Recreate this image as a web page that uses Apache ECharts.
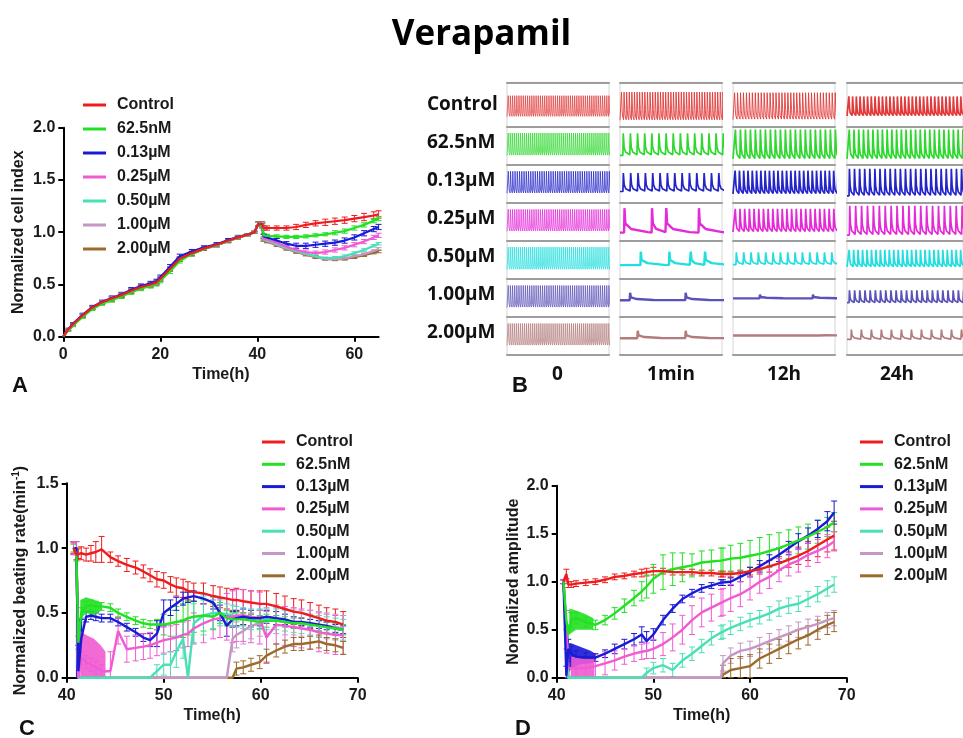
<!DOCTYPE html>
<html>
<head>
<meta charset="utf-8">
<script src="https://cdn.jsdelivr.net/npm/echarts@6/dist/echarts.min.js"></script>
<style>
  html, body { margin: 0; padding: 0; background: #fff; }
  #chart { width: 963px; height: 738px; }
</style>
</head>
<body>
<div id="chart"></div>
<script>
// ---------- shared labels and colours ----------
const seriesNames = ['Control', '62.5nM', '0.13µM', '0.25µM', '0.50µM', '1.00µM', '2.00µM'];
const seriesColors = ['#ee1c1c', '#22e022', '#1a1ad6', '#f05ad2', '#48e0b4', '#c497c4', '#9a6b2c'];

// ---------- A: normalized cell index ----------
const timeA = [0,1,2,4,6,8,10,12,14,16,18,19.2,20,22,24,26.5,29,31.6,34,36,38,39.4,40.2,41,41.3,42,44,46,48,50,52,54,56,58,60,62,64,65];
const cellIndexMean = [
  [0,0.07,0.12,0.205,0.28,0.33,0.365,0.4,0.44,0.475,0.5,0.52,0.555,0.65,0.745,0.8,0.845,0.88,0.92,0.95,0.975,1.0,1.08,1.08, 1.04,1.04,1.04,1.04,1.05,1.07,1.085,1.095,1.105,1.115,1.13,1.145,1.16,1.17],
  [0,0.06,0.105,0.19,0.265,0.315,0.35,0.385,0.425,0.46,0.485,0.505,0.535,0.625,0.725,0.79,0.84,0.875,0.915,0.95,0.975,1.0,1.08,1.07, 0.97,0.965,0.96,0.955,0.955,0.96,0.97,0.98,0.995,1.01,1.04,1.07,1.11,1.13],
  [0,0.07,0.125,0.21,0.285,0.335,0.37,0.405,0.45,0.485,0.51,0.53,0.57,0.67,0.77,0.815,0.855,0.885,0.925,0.955,0.978,1.0,1.08,1.07, 0.96,0.95,0.92,0.89,0.87,0.87,0.88,0.89,0.9,0.92,0.95,0.99,1.03,1.05],
  [0,0.07,0.12,0.2,0.275,0.325,0.36,0.395,0.435,0.47,0.495,0.515,0.55,0.645,0.74,0.795,0.84,0.875,0.915,0.948,0.975,1.0,1.08,1.07, 0.94,0.93,0.9,0.86,0.83,0.81,0.8,0.81,0.83,0.85,0.88,0.91,0.95,0.97],
  [0,0.065,0.115,0.2,0.275,0.325,0.36,0.395,0.435,0.47,0.495,0.515,0.55,0.645,0.74,0.795,0.84,0.875,0.915,0.948,0.975,1.0,1.08,1.07, 0.935,0.92,0.89,0.85,0.82,0.795,0.77,0.75,0.755,0.77,0.8,0.83,0.87,0.89],
  [0,0.065,0.115,0.2,0.275,0.325,0.36,0.395,0.435,0.47,0.495,0.515,0.55,0.645,0.74,0.795,0.84,0.875,0.915,0.948,0.975,1.0,1.08,1.06, 0.93,0.915,0.88,0.845,0.815,0.79,0.765,0.745,0.74,0.75,0.77,0.79,0.82,0.84],
  [0,0.065,0.115,0.2,0.275,0.325,0.36,0.395,0.435,0.47,0.495,0.515,0.55,0.645,0.74,0.795,0.84,0.875,0.915,0.948,0.975,1.0,1.08,1.06, 0.925,0.91,0.875,0.84,0.81,0.785,0.76,0.745,0.74,0.745,0.76,0.78,0.805,0.815]
];
const cellIndexErr = [
  [0,0.01,0.01,0.015,0.015,0.015,0.02,0.02,0.02,0.02,0.02,0.02,0.02,0.02,0.02,0.02,0.015,0.015,0.015,0.015,0.01,0.01,0.02,0.02, 0.02,0.02,0.02,0.02,0.025,0.025,0.025,0.03,0.03,0.03,0.03,0.035,0.035,0.035],
  [0,0.01,0.01,0.015,0.015,0.015,0.02,0.02,0.02,0.02,0.02,0.02,0.02,0.02,0.02,0.02,0.015,0.015,0.015,0.015,0.01,0.01,0.02,0.02, 0.015,0.015,0.015,0.015,0.015,0.015,0.015,0.015,0.02,0.02,0.02,0.02,0.02,0.02],
  [0,0.01,0.01,0.015,0.015,0.015,0.02,0.02,0.02,0.02,0.02,0.02,0.02,0.02,0.02,0.02,0.015,0.015,0.015,0.015,0.01,0.01,0.02,0.02, 0.02,0.02,0.02,0.02,0.025,0.025,0.025,0.025,0.025,0.025,0.025,0.025,0.025,0.025],
  [0,0.01,0.01,0.015,0.015,0.015,0.02,0.02,0.02,0.02,0.02,0.02,0.02,0.02,0.02,0.02,0.015,0.015,0.015,0.015,0.01,0.01,0.02,0.02, 0.015,0.015,0.015,0.02,0.02,0.02,0.02,0.02,0.02,0.02,0.02,0.02,0.02,0.02],
  [0,0.01,0.01,0.015,0.015,0.015,0.02,0.02,0.02,0.02,0.02,0.02,0.02,0.02,0.02,0.02,0.015,0.015,0.015,0.015,0.01,0.01,0.02,0.02, 0.012,0.012,0.012,0.012,0.012,0.012,0.012,0.012,0.012,0.012,0.012,0.012,0.012,0.012],
  [0,0.01,0.01,0.015,0.015,0.015,0.02,0.02,0.02,0.02,0.02,0.02,0.02,0.02,0.02,0.02,0.015,0.015,0.015,0.015,0.01,0.01,0.02,0.02, 0.012,0.012,0.012,0.012,0.012,0.012,0.012,0.012,0.012,0.012,0.012,0.012,0.012,0.012],
  [0,0.01,0.01,0.015,0.015,0.015,0.02,0.02,0.02,0.02,0.02,0.02,0.02,0.02,0.02,0.02,0.015,0.015,0.015,0.015,0.01,0.01,0.02,0.02, 0.012,0.012,0.012,0.012,0.012,0.012,0.012,0.012,0.012,0.012,0.012,0.012,0.012,0.012]
];

// ---------- B: beating traces ----------
const traceCols = ['0', '1min', '12h', '24h'];
// spacing between beats, as a fraction of one panel width (null = irregular rhythm)
const beatPeriod = [
  [0.021, 0.0255, 0.029, 0.041],
  [0.020, 0.070, 0.049, 0.052],
  [0.022, 0.072, 0.042, 0.056],
  [0.021, null, 0.046, 0.065],
  [0.020, null, 0.072, 0.049],
  [0.021, null, null, 0.057],
  [0.020, null, null, 0.110]
];
// beat positions for the irregular traces: [row, column, positions]
const irregularBeats = [
  [3, 1, [0.04, 0.31, 0.45, 0.77]],
  [4, 1, [0.20, 0.48, 0.69, 0.83]],
  [5, 1, [0.095, 0.64]],
  [6, 1, [0.17, 0.64]],
  [5, 2, [0.26, 0.78]],
  [6, 2, [0.84]]
];
// spike amplitude (arbitrary units)
const beatAmp = [
  [0.86, 1.15, 1.10, 0.80],
  [0.92, 0.90, 1.20, 1.20],
  [0.90, 0.75, 0.95, 1.10],
  [0.90, 1.00, 0.95, 1.20],
  [0.92, 0.55, 0.50, 0.70],
  [0.90, 0.30, 0.15, 0.50],
  [0.90, 0.30, 0.08, 0.40]
];
const traceColors = ['#e23a3a', '#2fd82f', '#2424c8', '#e52ad8', '#22dede', '#5a52b8', '#b27c7c'];

// ---------- C: normalized beating rate ----------
const timeC = [40.7,41.0,41.2,41.5,42, 42.5,43,43.6,44.5,45.3, 46.2,47.1,47.9,48.6,49.3, 50,50.7,51.3,52,52.5, 53.1,54.1,55.1,55.8,56.5, 57.1,57.5,58.2,59,59.9, 60.6,61.6,62.5,63.4,64.2, 65.1,66,66.8,67.7,68.5];
const rateMean = [
  [1.0,0.95,0.96,0.96,0.95, 0.96,0.97,0.99,0.93,0.9, 0.87,0.85,0.82,0.79,0.76, 0.75,0.72,0.7,0.69,0.67, 0.66,0.65,0.63,0.62,0.61, 0.6,0.6,0.59,0.58,0.57, 0.57,0.55,0.53,0.51,0.5, 0.48,0.46,0.44,0.43,0.41],
  [1.0,0.95,0.27,0.5,0.55, 0.56,0.55,0.55,0.54,0.5, 0.47,0.44,0.42,0.41,0.41, 0.41,0.42,0.43,0.44,0.46, 0.47,0.48,0.47,0.5,0.46, 0.45,0.45,0.45,0.44,0.43, 0.44,0.44,0.43,0.42,0.42, 0.41,0.4,0.39,0.38,0.37],
  [1.0,1.0,0.05,0.3,0.47, 0.48,0.47,0.46,0.46,0.43, 0.39,0.35,0.31,0.29,0.34, 0.5,0.54,0.57,0.61,0.62, 0.63,0.61,0.58,0.5,0.4, 0.45,0.46,0.47,0.46,0.46, 0.47,0.46,0.45,0.43,0.43, 0.42,0.41,0.4,0.38,0.37],
  [1.0,1.0,0.0,0.15,0.12, 0.1,0.08,0.05,0.05,0.36, 0.22,0.23,0.24,0.25,0.27, 0.29,0.3,0.31,0.33,0.34, 0.38,0.42,0.45,0.46,0.47, 0.47,0.48,0.48,0.47,0.46, 0.31,0.41,0.4,0.39,0.38, 0.37,0.35,0.34,0.33,0.33],
  [1.0,1.0,0,0,0, 0,0,0,0,0, 0,0,0,0,0.05, 0.1,0.1,0.2,0.3,0.0, 0.42,0.48,0.5,0.5,0.49, 0.48,0.47,0.46,0.45,0.45, 0.45,0.45,0.44,0.43,0.42, 0.41,0.4,0.39,0.38,0.37],
  [1.0,1.0,0,0,0, 0,0,0,0,0, 0,0,0,0,0, 0,0,0,0,0, 0,0,0,0,0, 0.3,0.33,0.36,0.4,0.42, 0.44,0.44,0.43,0.43,0.42, 0.42,0.41,0.4,0.39,0.38],
  [1.0,1.0,0,0,0, 0,0,0,0,0, 0,0,0,0,0, 0,0,0,0,0, 0,0,0,0,0, 0,0.07,0.08,0.1,0.12, 0.17,0.21,0.24,0.26,0.26, 0.27,0.28,0.26,0.25,0.23]
];
const rateErr = [
  [0.04,0.04,0.04,0.05,0.05, 0.06,0.08,0.1,0.04,0.04, 0.05,0.05,0.05,0.05,0.06, 0.06,0.06,0.07,0.07,0.07, 0.07,0.08,0.08,0.08,0.08, 0.08,0.09,0.09,0.09,0.1, 0.1,0.1,0.1,0.1,0.1, 0.1,0.1,0.1,0.1,0.1],
  [0.03,0.05,0.05,0.04,0.04, 0.04,0.04,0.03,0.03,0.03, 0.03,0.03,0.03,0.03,0.04, 0.08,0.1,0.12,0.13,0.13, 0.12,0.12,0.1,0.08,0.06, 0.05,0.05,0.05,0.05,0.05, 0.05,0.04,0.04,0.04,0.04, 0.04,0.04,0.04,0.04,0.04],
  [0.05,0.05,0.2,0.15,0.04, 0.03,0.03,0.03,0.03,0.03, 0.03,0.03,0.03,0.05,0.1, 0.1,0.06,0.05,0.05,0.04, 0.04,0.04,0.05,0.06,0.08, 0.06,0.06,0.06,0.06,0.06, 0.05,0.05,0.04,0.04,0.03, 0.03,0.03,0.03,0.03,0.03],
  [0.05,0.05,0,0.05,0.05, 0.05,0.05,0.05,0.15,0.1, 0.1,0.1,0.1,0.1,0.1, 0.1,0.1,0.1,0.1,0.1, 0.12,0.15,0.15,0.15,0.18, 0.2,0.2,0.2,0.2,0.2, 0.2,0.15,0.15,0.15,0.15, 0.15,0.15,0.15,0.15,0.15],
  [0,0,0,0,0, 0,0,0,0,0, 0,0,0,0,0.05, 0.08,0.1,0.12,0.15,0, 0.15,0.15,0.12,0.1,0.08, 0.08,0.08,0.08,0.08,0.08, 0.08,0.08,0.08,0.08,0.08, 0.08,0.08,0.08,0.08,0.08],
  [0,0,0,0,0, 0,0,0,0,0, 0,0,0,0,0, 0,0,0,0,0, 0,0,0,0,0, 0.1,0.1,0.1,0.1,0.1, 0.1,0.1,0.1,0.1,0.1, 0.1,0.1,0.1,0.1,0.1],
  [0,0,0,0,0, 0,0,0,0,0, 0,0,0,0,0, 0,0,0,0,0, 0,0,0,0,0, 0,0.05,0.05,0.05,0.05, 0.05,0.05,0.05,0.05,0.05, 0.05,0.05,0.05,0.05,0.05]
];
// envelopes of the irregular beating just after dosing: [time, low, high]
const rateNoiseBlue = [[40.95,0,0.5],[41.3,0,0.45],[41.6,0.3,0.5]];
const rateNoiseGreen = [[41.4,0.45,0.6],[42.0,0.5,0.62],[42.8,0.48,0.6],[43.6,0.52,0.58]];
const rateNoisePink = [[41.4,0,0.36],[42.0,0,0.33],[42.8,0,0.3],[43.5,0,0.25],[44.0,0,0.2]];

// ---------- D: normalized amplitude ----------
const timeD = [40.7,41.0,41.2,41.5,42, 43,44,45,46,47, 48,48.8,49.3,50,51, 52,53,54,55,56, 57,57.2,58,59,60, 61,62,63,64,65, 66,67,68,68.7];
const ampMean = [
  [1.0,1.08,0.97,0.97,0.98, 0.99,1.0,1.02,1.05,1.06, 1.08,1.09,1.1,1.11,1.11, 1.1,1.1,1.1,1.09,1.09, 1.08,1.08,1.08,1.09,1.11, 1.13,1.16,1.19,1.23,1.27, 1.32,1.38,1.44,1.48],
  [1.0,0.6,0.45,0.6,0.62, 0.58,0.55,0.6,0.67,0.75, 0.83,0.9,0.95,1.03,1.1, 1.13,1.15,1.17,1.2,1.21, 1.22,1.22,1.24,1.25,1.27, 1.29,1.32,1.35,1.39,1.43, 1.47,1.52,1.57,1.62],
  [1.0,0.02,0.3,0.25,0.22, 0.21,0.21,0.25,0.3,0.35, 0.4,0.45,0.38,0.45,0.6, 0.72,0.82,0.88,0.93,0.96, 0.99,0.99,1.0,1.05,1.1, 1.16,1.22,1.28,1.35,1.42, 1.48,1.55,1.63,1.72],
  [1.0,0.5,0.1,0.1,0.1, 0.1,0.12,0.15,0.18,0.22, 0.25,0.27,0.28,0.3,0.35, 0.42,0.5,0.6,0.68,0.73, 0.78,0.79,0.83,0.87,0.93, 1.0,1.05,1.12,1.18,1.22, 1.28,1.32,1.37,1.42],
  [1.0,0.5,0,0,0, 0,0,0,0,0, 0,0,0.05,0.1,0.13, 0.08,0.18,0.25,0.33,0.41, 0.47,0.48,0.52,0.56,0.6, 0.63,0.67,0.72,0.75,0.77, 0.82,0.87,0.93,0.97],
  [1.0,0.5,0,0,0, 0,0,0,0,0, 0,0,0,0,0, 0,0,0,0,0, 0,0.15,0.23,0.28,0.3, 0.34,0.38,0.42,0.46,0.5, 0.53,0.56,0.6,0.62],
  [1.0,0.5,0,0,0, 0,0,0,0,0, 0,0,0,0,0, 0,0,0,0,0, 0,0.03,0.08,0.1,0.12, 0.2,0.25,0.3,0.35,0.4, 0.44,0.5,0.55,0.58]
];
const ampErr = [
  [0.02,0.05,0.03,0.03,0.03, 0.03,0.03,0.03,0.03,0.03, 0.03,0.04,0.04,0.04,0.03, 0.03,0.03,0.03,0.03,0.03, 0.03,0.03,0.03,0.03,0.04, 0.05,0.06,0.07,0.08,0.09, 0.1,0.12,0.13,0.15],
  [0.02,0.1,0.1,0.08,0.06, 0.05,0.05,0.05,0.06,0.07, 0.08,0.1,0.12,0.15,0.18, 0.17,0.15,0.12,0.12,0.12, 0.13,0.13,0.14,0.15,0.16, 0.17,0.17,0.16,0.15,0.14, 0.13,0.12,0.1,0.1],
  [0.02,0.1,0.1,0.08,0.06, 0.05,0.04,0.04,0.05,0.05, 0.06,0.08,0.1,0.06,0.05, 0.04,0.04,0.04,0.04,0.03, 0.03,0.03,0.04,0.05,0.05, 0.06,0.06,0.07,0.07,0.08, 0.08,0.09,0.1,0.12],
  [0.02,0.2,0.1,0.1,0.1, 0.1,0.12,0.12,0.1,0.08, 0.08,0.08,0.08,0.1,0.12, 0.14,0.15,0.15,0.15,0.14, 0.14,0.14,0.14,0.13,0.12, 0.12,0.12,0.12,0.12,0.12, 0.12,0.12,0.12,0.1],
  [0,0,0,0,0, 0,0,0,0,0, 0,0,0.05,0.06,0.07, 0.07,0.07,0.07,0.07,0.07, 0.07,0.07,0.07,0.07,0.07, 0.07,0.07,0.08,0.08,0.08, 0.08,0.08,0.08,0.08],
  [0,0,0,0,0, 0,0,0,0,0, 0,0,0,0,0, 0,0,0,0,0, 0,0.08,0.08,0.08,0.08, 0.08,0.08,0.08,0.08,0.08, 0.08,0.08,0.08,0.08],
  [0,0,0,0,0, 0,0,0,0,0, 0,0,0,0,0, 0,0,0,0,0, 0,0.1,0.12,0.12,0.12, 0.1,0.1,0.1,0.1,0.1, 0.1,0.1,0.1,0.1]
];
const ampNoiseBlue = [[41.0,0.0,0.36],[41.5,0.1,0.36],[42.5,0.14,0.32],[43.5,0.15,0.28],[44.0,0.17,0.25]];
const ampNoiseGreen = [[41.3,0.45,0.72],[42.0,0.5,0.7],[43.0,0.5,0.66],[43.8,0.5,0.62]];
const ampNoisePink = [[41.5,0,0.22],[42.5,0,0.2],[43.9,0,0.2]];

// ---------- building blocks ----------
const ARIAL = '"Liberation Sans", Arial, sans-serif';
const SANS = '"Open Sans", "Noto Sans", sans-serif';
const grids = [], xAxes = [], yAxes = [], series = [];

function valueAxisBase(extra) {
  return Object.assign({
    type: 'value',
    axisLine: { show: true, onZero: false, lineStyle: { color: '#000', width: 2 } },
    axisTick: { show: true, inside: false, length: 5, lineStyle: { color: '#000', width: 2 } },
    axisLabel: { color: '#1a1a1a', fontFamily: ARIAL, fontWeight: 'bold', fontSize: 16 },
    splitLine: { show: false },
    nameTextStyle: { color: '#1a1a1a', fontFamily: ARIAL, fontWeight: 'bold', fontSize: 16 }
  }, extra);
}

function addErrorBars(gi, times, mean, err, color) {
  const data = [];
  times.forEach((t, i) => {
    if (mean[i] == null || !err[i]) return;
    data.push([t, Math.max(0, mean[i] - err[i]), mean[i] + err[i]]);
  });
  series.push({
    type: 'custom', xAxisIndex: gi, yAxisIndex: gi, silent: true, z: 2, animation: false,
    data,
    encode: { x: 0, y: [1, 2] },
    renderItem(params, api) {
      const x = api.value(0);
      const lo = api.coord([x, api.value(1)]);
      const hi = api.coord([x, api.value(2)]);
      const c = 3;
      const st = { stroke: color, lineWidth: 1 };
      return {
        type: 'group',
        children: [
          { type: 'line', shape: { x1: lo[0], y1: lo[1], x2: hi[0], y2: hi[1] }, style: st },
          { type: 'line', shape: { x1: hi[0] - c, y1: hi[1], x2: hi[0] + c, y2: hi[1] }, style: st },
          { type: 'line', shape: { x1: lo[0] - c, y1: lo[1], x2: lo[0] + c, y2: lo[1] }, style: st }
        ]
      };
    }
  });
}

function addBand(gi, band, color) {
  series.push({
    type: 'custom', xAxisIndex: gi, yAxisIndex: gi, silent: true, z: 3, animation: false,
    data: band,
    encode: { x: 0, y: [1, 2] },
    renderItem(params, api) {
      if (params.dataIndex !== 0) return null;
      const upper = band.map(d => api.coord([d[0], d[2]]));
      const lower = band.map(d => api.coord([d[0], d[1]])).reverse();
      return { type: 'polygon', shape: { points: upper.concat(lower) }, style: { fill: color, opacity: 0.9 } };
    }
  });
}

function addLines(gi, times, means, width) {
  means.forEach((m, k) => {
    const data = [];
    times.forEach((t, i) => { if (m[i] != null) data.push([t, m[i]]); });
    series.push({
      type: 'line', name: seriesNames[k], xAxisIndex: gi, yAxisIndex: gi,
      data, showSymbol: false, symbol: 'none', animation: false, silent: true,
      z: k === 0 ? 6 : 5 - k * 0.1,
      itemStyle: { color: seriesColors[k] },
      lineStyle: { color: seriesColors[k], width }
    });
  });
}

// ---------- panel A ----------
grids.push({ left: 63.3, top: 127.7, width: 315.3, height: 209 });
xAxes.push(valueAxisBase({
  gridIndex: 0, min: 0, max: 65,
  axisTick: { show: true, length: 5, lineStyle: { color: '#000', width: 2 }, customValues: [0, 20, 40, 60] },
  axisLabel: { color: '#1a1a1a', fontFamily: ARIAL, fontWeight: 'bold', fontSize: 16, margin: 10, customValues: [0, 20, 40, 60] },
  name: 'Time(h)', nameLocation: 'middle', nameGap: 30
}));
yAxes.push(valueAxisBase({
  gridIndex: 0, min: 0, max: 2, interval: 0.5,
  axisLabel: { color: '#1a1a1a', fontFamily: ARIAL, fontWeight: 'bold', fontSize: 16, margin: 8, formatter: v => v.toFixed(1) },
  name: 'Normalized cell index', nameLocation: 'middle', nameGap: 37, nameRotate: 90
}));
cellIndexMean.forEach((m, k) => addErrorBars(0, timeA, m, cellIndexErr[k], seriesColors[k]));
addLines(0, timeA, cellIndexMean, 2.2);

// ---------- panel C ----------
grids.push({ left: 66.7, top: 483.3, width: 291, height: 194.4 });
xAxes.push(valueAxisBase({
  gridIndex: 1, min: 40, max: 70, interval: 10,
  axisLabel: { color: '#1a1a1a', fontFamily: ARIAL, fontWeight: 'bold', fontSize: 16, margin: 10 },
  name: 'Time(h)', nameLocation: 'middle', nameGap: 30
}));
yAxes.push(valueAxisBase({
  gridIndex: 1, min: 0, max: 1.5, interval: 0.5,
  axisLabel: { color: '#1a1a1a', fontFamily: ARIAL, fontWeight: 'bold', fontSize: 16, margin: 8, formatter: v => v.toFixed(1) },
  name: 'Normalized beating rate(min{sup|-1})', nameLocation: 'middle', nameGap: 37, nameRotate: 90,
  nameTextStyle: {
    color: '#1a1a1a', fontFamily: ARIAL, fontWeight: 'bold', fontSize: 16, lineHeight: 18,
    rich: { sup: { fontFamily: ARIAL, fontWeight: 'bold', fontSize: 10, verticalAlign: 'top', lineHeight: 18, color: '#1a1a1a' } }
  }
}));
rateMean.forEach((m, k) => addErrorBars(1, timeC, m, rateErr[k], seriesColors[k]));
addBand(1, rateNoiseBlue, seriesColors[2]);
addBand(1, rateNoiseGreen, seriesColors[1]);
addBand(1, rateNoisePink, seriesColors[3]);
addLines(1, timeC, rateMean, 2.4);

// ---------- panel D ----------
grids.push({ left: 556.7, top: 485.7, width: 290, height: 192 });
xAxes.push(valueAxisBase({
  gridIndex: 2, min: 40, max: 70, interval: 10,
  axisLabel: { color: '#1a1a1a', fontFamily: ARIAL, fontWeight: 'bold', fontSize: 16, margin: 10 },
  name: 'Time(h)', nameLocation: 'middle', nameGap: 30
}));
yAxes.push(valueAxisBase({
  gridIndex: 2, min: 0, max: 2, interval: 0.5,
  axisLabel: { color: '#1a1a1a', fontFamily: ARIAL, fontWeight: 'bold', fontSize: 16, margin: 8, formatter: v => v.toFixed(1) },
  name: 'Normalized amplitude', nameLocation: 'middle', nameGap: 35, nameRotate: 90
}));
ampMean.forEach((m, k) => addErrorBars(2, timeD, m, ampErr[k], seriesColors[k]));
addBand(2, ampNoiseBlue, seriesColors[2]);
addBand(2, ampNoiseGreen, seriesColors[1]);
addBand(2, ampNoisePink, seriesColors[3]);
addLines(2, timeD, ampMean, 2.4);

// ---------- panel B: trace grid ----------
const colLeft = [507, 620, 733, 847];
const colWidth = [102, 102, 102, 130];
const colCenter = [557.5, 671, 784, 897];
const rowEdges = [82.3, 126.7, 164.8, 202.8, 240.9, 278.9, 317, 355];
const PX_PER_UNIT = 24.5;

function beatsFor(r, c, span) {
  const irr = irregularBeats.find(b => b[0] === r && b[1] === c);
  if (irr) return irr[2];
  const p = beatPeriod[r][c];
  const out = [];
  for (let t = p * 0.4; t < span + p; t += p) out.push(t);
  return out;
}

function traceShape(beats, amp, span) {
  const pts = [[0, 0]];
  beats.forEach((t, k) => {
    const next = k + 1 < beats.length ? beats[k + 1] : span + 0.3;
    const L = Math.min(next - t, 0.24);
    const rise = Math.min(0.004, 0.18 * L);
    const fall = Math.min(0.008, 0.25 * L);
    pts.push([t, 0], [t + rise, amp], [t + rise + fall, amp * 0.38],
             [t + rise + fall + 0.25 * (L - rise - fall), amp * 0.15], [t + 0.97 * L, amp * 0.02]);
  });
  pts.push([span + 0.3, 0]);
  return pts;
}

for (let r = 0; r < seriesNames.length; r++) {
  for (let c = 0; c < traceCols.length; c++) {
    const top = rowEdges[r], h = rowEdges[r + 1] - rowEdges[r];
    grids.push({ left: colLeft[c], top, width: colWidth[c], height: h, show: true, borderColor: '#d6d6d6', borderWidth: 1 });
    const gi = grids.length - 1;
    const span = colWidth[c] / 102;
    const frameAxis = (pos) => ({
      type: 'value', gridIndex: gi, min: 0, max: span, position: pos,
      axisLine: { show: true, onZero: false, lineStyle: { color: '#9d9d9d', width: 2 } },
      axisTick: { show: false }, axisLabel: { show: false }, splitLine: { show: false }
    });
    const xi = xAxes.length;
    xAxes.push(frameAxis('bottom'));
    if (r === 0) xAxes.push(frameAxis('top'));
    const amp = beatAmp[r][c];
    const basePx = (38 - amp * PX_PER_UNIT) / 2 + 1.5;
    const yi = yAxes.length;
    yAxes.push({ type: 'value', gridIndex: gi, min: -basePx / PX_PER_UNIT, max: (h - basePx) / PX_PER_UNIT, show: false });
    const p = beatPeriod[r][c];
    const width = p == null ? 2.4 : (p < 0.035 ? 0.9 : 1.7);
    series.push({
      type: 'line', name: 'trace ' + r + '-' + c, xAxisIndex: xi, yAxisIndex: yi,
      data: traceShape(beatsFor(r, c, span), amp, span),
      showSymbol: false, symbol: 'none', animation: false, silent: true, clip: true,
      lineStyle: { color: traceColors[r], width, opacity: c === 0 ? 0.8 : 1 }
    });
  }
}

// ---------- text ----------
const texts = [];
seriesNames.forEach((name, r) => {
  texts.push({ type: 'text', x: 427, y: rowEdges[r + 1] - 22,
    style: { text: name, fontFamily: SANS, fontWeight: 'bold', fontSize: 19, fill: '#111', verticalAlign: 'middle', align: 'left' } });
});
traceCols.forEach((name, c) => {
  texts.push({ type: 'text', x: colCenter[c], y: 375,
    style: { text: name, fontFamily: SANS, fontWeight: 'bold', fontSize: 19, fill: '#111', verticalAlign: 'middle', align: 'center' } });
});
[['A', 12, 386], ['B', 512, 386], ['C', 19, 729], ['D', 515, 729]].forEach(([t, x, y]) => {
  texts.push({ type: 'text', x, y,
    style: { text: t, fontFamily: ARIAL, fontWeight: 'bold', fontSize: 22, fill: '#111', verticalAlign: 'middle', align: 'left' } });
});

function legendAt(left, top, gap) {
  return {
    orient: 'vertical', left, top, itemWidth: 23, itemHeight: 3, itemGap: gap, icon: 'rect',
    selectedMode: false, data: seriesNames.slice(),
    textStyle: { color: '#1a1a1a', fontFamily: ARIAL, fontWeight: 'bold', fontSize: 16, lineHeight: 16, padding: [0, 0, 0, 6] }
  };
}

const chart = echarts.init(document.getElementById('chart'), null, { renderer: 'canvas', width: 963, height: 738 });
chart.setOption({
  backgroundColor: '#ffffff',
  animation: false,
  title: { text: 'Verapamil', left: 'center', top: 13,
    textStyle: { fontFamily: SANS, fontWeight: 'bold', fontSize: 35, color: '#000' } },
  legend: [legendAt(78, 92, 8), legendAt(257, 429, 6.3), legendAt(855, 429, 6.3)],
  grid: grids,
  xAxis: xAxes,
  yAxis: yAxes,
  series,
  graphic: { elements: texts }
});
</script>
</body>
</html>
